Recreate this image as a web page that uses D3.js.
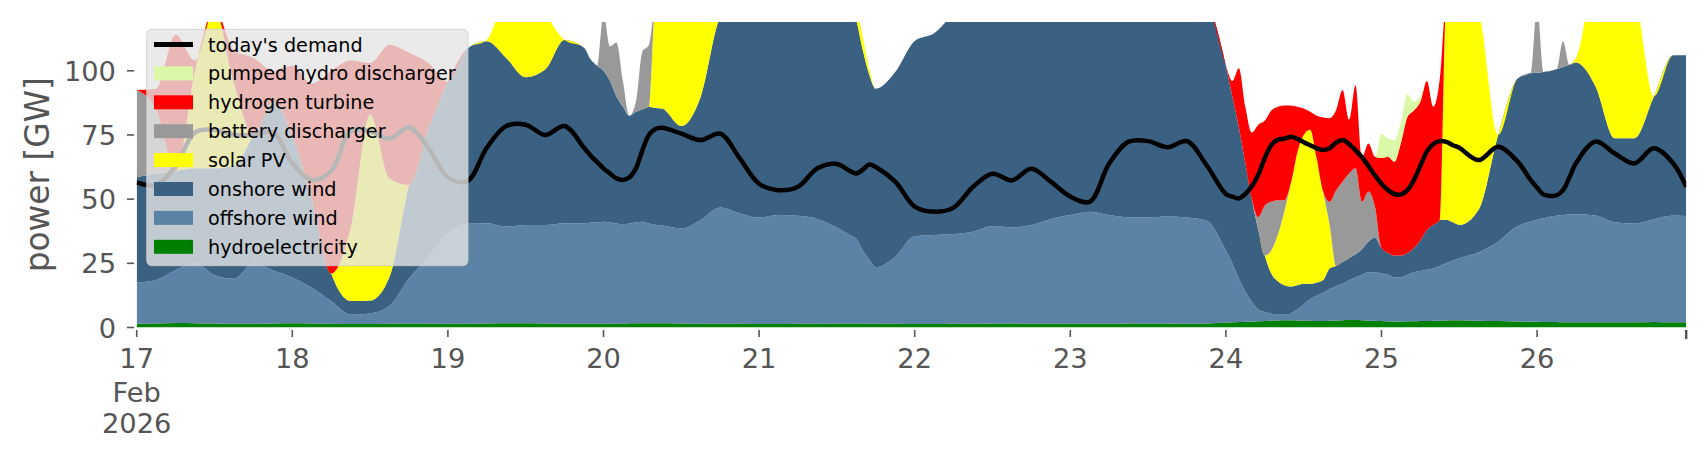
<!DOCTYPE html>
<html><head><meta charset="utf-8">
<script src="https://cdn.jsdelivr.net/npm/d3@7"></script>
<style>
body{margin:0;background:#fff;}
text{font-family:"DejaVu Sans",sans-serif;}
</style>
</head><body>
<svg id="chart" width="1706" height="460"></svg>
<script>
// sample times: hours after 17 Feb 2026 00:00 (denser where the picture changes fast)
const hours = [0,3,6,9,12,15,18,21,24,27,30,33,36,39,42,45,48,51,54,57,60,63,66,69,
  70,71,72,73,74,75,76,77,78,79,80,81,
  84,87,90,93,96,99,102,105,108,
  110,111,112,113,114,
  117,120,123,126,129,132,135,138,141,144,147,150,153,156,159,162,165,
  168,169,170,171,172,173,174,175,176,177,178,179,180,181,182,183,184,185,186,187,188,189,190,
  191,192,193,194,195,196,197,198,199,200,201,202,203,204,
  207,210,213,
  215,216,217,
  219,220,221,222,
  225,228,231,234,237,239];

const hydroelectricity = [1.5,1.6,1.8,1.7,1.6,1.5,1.5,1.6,1.7,1.6,1.5,1.4,1.4,1.5,1.6,1.6,1.5,1.5,1.6,1.7,1.7,1.6,1.5,1.5,
  1.5,1.5,1.5,1.5,1.6,1.6,1.7,1.7,1.7,1.7,1.7,1.7,
  1.6,1.5,1.5,1.5,1.4,1.4,1.5,1.5,1.6,
  1.6,1.6,1.6,1.5,1.5,
  1.5,1.4,1.4,1.5,1.5,1.6,1.6,1.5,1.5,1.5,1.5,1.5,1.6,1.6,1.6,1.5,1.6,
  1.9,2.0,2.1,2.2,2.3,2.4,2.5,2.6,2.7,2.8,2.8,2.7,2.6,2.6,2.5,2.5,2.6,2.7,2.8,2.9,2.9,2.8,2.7,
  2.6,2.5,2.4,2.3,2.3,2.4,2.4,2.5,2.5,2.6,2.6,2.7,2.8,2.8,
  2.6,2.5,2.3,
  2.2,2.2,2.1,
  2.1,2.0,2.0,2.0,
  2.0,2.0,2.0,2.1,2.0,2.0];
const offshoreWind = [16.0,16.9,20.6,23.3,18.8,17.5,23.4,20.7,17.8,13.9,8.8,3.6,4.1,7.0,17.5,26.0,35.2,38.9,39.0,37.6,38.2,38.3,39.1,39.1,
  39.3,39.5,39.7,39.5,38.9,38.6,38.8,39.3,39.5,38.8,38.3,38.0,
  37.0,40.4,45.2,43.0,41.4,42.4,42.0,40.8,37.4,
  34.4,32.9,28.4,25.0,22.0,
  26.1,34.1,34.6,34.9,35.8,37.9,37.4,38.4,40.8,42.3,43.6,42.3,41.3,41.3,41.6,41.3,40.0,
  28.1,23.0,16.9,11.8,7.7,4.6,3.5,2.9,2.3,2.2,2.7,4.3,6.4,8.4,10.0,11.0,12.4,13.3,14.2,15.6,16.6,17.7,18.8,
  18.9,18.5,18.1,17.2,17.2,18.1,19.1,19.5,20.0,20.4,21.4,22.3,23.2,24.2,
  26.7,31.0,37.2,
  39.1,39.8,40.5,
  41.4,41.8,42.0,42.1,
  41.6,39.0,38.5,40.1,41.6,41.4];
const onshoreWind = [41.0,41.5,38.6,37.0,41.6,44.0,50.1,65.7,55.5,34.5,10.7,5.3,5.0,11.3,36.4,50.0,59.0,68.3,70.9,65.7,57.6,60.6,71.4,68.4,
  63.7,61.0,58.8,55.0,49.5,45.8,42.0,43.0,43.8,45.5,45.5,45.6,
  39.9,48.1,74.3,83.5,87.2,86.2,86.5,85.7,88.0,
  88.0,85.0,78.0,72.0,69.5,
  71.9,76.1,78.6,85.6,88.7,90.5,93.0,94.1,92.7,91.2,89.9,91.2,92.1,92.1,91.8,92.2,86.4,
  72.0,65.0,59.0,50.0,40.0,31.0,22.0,15.5,13.0,11.5,10.5,9.5,8.0,6.0,5.0,5.0,8.0,8.0,8.5,8.5,9.0,10.0,12.0,
  13.5,10.0,8.5,8.5,8.5,8.5,9.5,12.0,15.5,17.0,18.0,17.0,15.0,13.0,
  16.7,41.5,57.5,
  57.7,57.2,56.9,
  57.1,57.7,58.3,59.1,
  50.4,32.7,33.2,47.7,62.4,62.6];
const solarPV = [0,0,0,38,62,32,0,0,0,0,0,28.7,72.5,38.2,0,0,0,0,0.5,25,37.5,22,0,0,
  0,0,0,0,0,0,0,0,0,0,39.5,39.7,
  46.5,35,0,0,0,0,0,20,25,
  6,5,5,2,0,
  0,0,0,0,0,0,0,0,0,0,0,0,0,0,0,0,0,
  0,0,0,0,0,0,0,9,18,28.5,40,51.5,58,60,48.5,34.5,17,0,0,0,0,0,0,
  0,0,0,0,0,0,0,0,0,0,0,86,89,90,
  76,0,0,
  0,0,0,
  0,0,0,1.8,
  40,60.3,55.3,0,0,0];
const batteryDischarger = [34,25,0,0,0,0,0,0,0,0,0,0,0,0,0,0,0,0,0,0,0,0,0,0,
  0,0,22,13.5,21,10,0,4,22.5,24,0,0,
  0,0,0,0,0,0,0,0,0,
  0,0,0,0,0,
  0,0,0,0,0,0,0,0,0,0,0,0,0,0,0,0,0,
  0,0,0,0,0,5,19.5,19,13.6,4.6,0,0,0,0,0,0,9,29.5,31.3,33,33.5,18.5,19.5,
  12,0,0,0,0,0,0,0,0,0,0,0,0,0,
  0,0,0,
  0,25.8,0,
  0,10,0,0,
  0,0,0,0,0,0];
const hydrogenTurbine = [0,8,53,4,0,13,30,12,27,45,79,65,20,52,51.5,25.4,0,0,0,0,0,0,0,0,
  0,0,0,0,0,0,0,0,0,0,0,0,
  0,0,0,0,0,0,0,0,0,
  0,0,0,0,0,
  0,0,0,0,0,0,0,0,0,0,0,0,0,0,0,0,0,
  0,6,23,22,26,36,33,35.5,36.4,36.9,30.5,18,10.3,7,16.5,28.8,32.5,31.2,35.7,21,32.4,17.5,18.7,
  19.5,35,37.5,36.6,44,53,53.5,54,58,46,55,0,0,0,
  0,0,0,
  0,0,0,
  0,0,0,0,
  0,0,0,0,0,0];
const pumpedHydroDischarger = [0,0,0,0,0,0,0,0,0,0,0,0,0,0,0,0,0,0,0,0,0,0,0,0,
  0,0,0,0,0,0,0,0,0,0,0,0,
  0,0,0,0,0,0,0,0,0,
  0,0,0,0,0,
  0,0,0,0,0,0,0,0,0,0,0,0,0,0,0,0,0,
  0,0,0,0,0,0,0,0,0,0,0,0,0,0,0,0,0,0,0,0,0,0,0,
  0,9.5,7,8.4,8,9,3.5,2,0,0,0,0,0,0,
  0,0,0,
  0,0,0,
  0,0,0,0,
  0,0,0,0,0,0];
const demand = [56.5,55.5,63,76,77,75,75,76,64,57.5,61,76.5,76.5,73.5,78,70,58.5,57,70,78.5,79,75,78.5,70,
  67,64.5,62,60,58.1,57.5,58.5,62,69,75,77.3,77.8,
  75.5,73,75.5,66,56,53.5,54.8,62,63.7,
  61,60,61.5,63.5,62.5,
  56.8,47.1,45.1,46.7,54.8,59.9,57.3,61.8,56.8,51,49,63.9,72.4,72.6,70.2,72.6,63.3,
  52,51,50.3,52,55,59.5,66,71,73.2,73.5,74.3,73.5,72.2,71,69.8,69.1,69.8,72,73,71.5,69,66.3,62.8,
  59.2,56,53.5,52,51.8,53.5,57.5,63,68.5,71.5,72.6,72.3,71,70,
  65.2,70.4,64.6,
  57.5,54.5,51.8,
  51.5,53.5,58.5,64,
  72.4,67.8,63.9,69.8,63.9,54.8];

const yTicks = [0, 25, 50, 75, 100];
const dayTicks = [17,18,19,20,21,22,23,24,25,26];

const series = [
  {key:"hydroelectricity", label:"hydroelectricity", values:hydroelectricity, color:"#008000"},
  {key:"offshore", label:"offshore wind", values:offshoreWind, color:"#5b83a5"},
  {key:"onshore", label:"onshore wind", values:onshoreWind, color:"#3b6182"},
  {key:"solar", label:"solar PV", values:solarPV, color:"#ffff00"},
  {key:"battery", label:"battery discharger", values:batteryDischarger, color:"#999999"},
  {key:"hydrogen", label:"hydrogen turbine", values:hydrogenTurbine, color:"#ff0000"},
  {key:"pumped", label:"pumped hydro discharger", values:pumpedHydroDischarger, color:"#dbf7a8"}
];

const t0 = Date.UTC(2026,1,17,0);
const rows = hours.map((h,i)=>{
  const r = {t: new Date(t0 + h*3600e3)};
  series.forEach(s=> r[s.key] = s.values[i]);
  r.demand = demand[i];
  return r;
});

const svg = d3.select("#chart");
const L = 136.7, R = 1686.2, T = 22, B = 327.5;
const x = d3.scaleUtc().domain([new Date(t0), new Date(t0 + 239*3600e3)]).range([L, R]);
const y = d3.scaleLinear().domain([0, 119]).range([B, T]);

svg.append("defs").append("clipPath").attr("id","clip")
  .append("rect").attr("x",L).attr("y",T).attr("width",R-L).attr("height",B-T);

const layers = d3.stack().keys(series.map(s=>s.key))(rows);
const area = d3.area().curve(d3.curveMonotoneX)
  .x(d=>x(d.data.t)).y0(d=>y(d[0])).y1(d=>y(d[1]));

const plot = svg.append("g").attr("clip-path","url(#clip)");
plot.selectAll("path.layer").data(layers).join("path")
  .attr("class","layer")
  .attr("fill",(d,i)=>series[i].color)
  .attr("d",area);

plot.append("path").datum(rows)
  .attr("fill","none").attr("stroke","#000").attr("stroke-width",4.5)
  .attr("stroke-linejoin","round")
  .attr("d", d3.line().curve(d3.curveCatmullRom.alpha(0.5)).x(d=>x(d.t)).y(d=>y(d.demand)));

// y axis
const gy = svg.append("g");
yTicks.forEach(v=>{
  gy.append("line").attr("x1",127).attr("x2",134).attr("y1",y(v)).attr("y2",y(v))
    .attr("stroke","#555").attr("stroke-width",1.6);
  gy.append("text").attr("x",116).attr("y",y(v)+10).attr("text-anchor","end")
    .attr("font-size",27.3).attr("fill","#555").text(v);
});
svg.append("text").attr("transform",`translate(38,${(T+B)/2}) rotate(-90)`)
  .attr("text-anchor","middle").attr("dominant-baseline","central")
  .attr("font-size",32.8).attr("fill","#555").text("power [GW]");

// x axis
const gx = svg.append("g");
dayTicks.forEach(d=>{
  const xp = x(new Date(Date.UTC(2026,1,d)));
  gx.append("line").attr("x1",xp).attr("x2",xp).attr("y1",330).attr("y2",337)
    .attr("stroke","#555").attr("stroke-width",1.6);
  const t = gx.append("text").attr("x",xp).attr("y",368).attr("text-anchor","middle")
    .attr("font-size",27.3).attr("fill","#555");
  t.append("tspan").attr("x",xp).text(d);
  if (d===17){
    t.append("tspan").attr("x",xp).attr("dy",34).text("Feb");
    t.append("tspan").attr("x",xp).attr("dy",31).text("2026");
  }
});
gx.append("line").attr("x1",R).attr("x2",R).attr("y1",330).attr("y2",339)
  .attr("stroke","#555").attr("stroke-width",2.4);

// legend
const lg = svg.append("g");
lg.append("rect").attr("x",146.7).attr("y",29.3).attr("width",321.3).attr("height",236.4)
  .attr("rx",5).attr("fill","#e5e5e5").attr("fill-opacity",0.8)
  .attr("stroke","#cccccc").attr("stroke-opacity",0.8).attr("stroke-width",1);
const items = [{label:"today's demand", line:true, color:"#000"}]
  .concat(series.slice().reverse().map(s=>({label:s.label, color:s.color})));
items.forEach((it,k)=>{
  const cy = 44.5 + k*28.9;
  if (it.line){
    lg.append("line").attr("x1",154).attr("x2",193).attr("y1",cy).attr("y2",cy)
      .attr("stroke",it.color).attr("stroke-width",5);
  } else {
    lg.append("rect").attr("x",154).attr("y",cy-7).attr("width",39).attr("height",14)
      .attr("fill",it.color);
  }
  lg.append("text").attr("x",208).attr("y",cy+7).attr("font-size",19.2)
    .attr("fill","#000").text(it.label);
});
</script>
</body></html>
